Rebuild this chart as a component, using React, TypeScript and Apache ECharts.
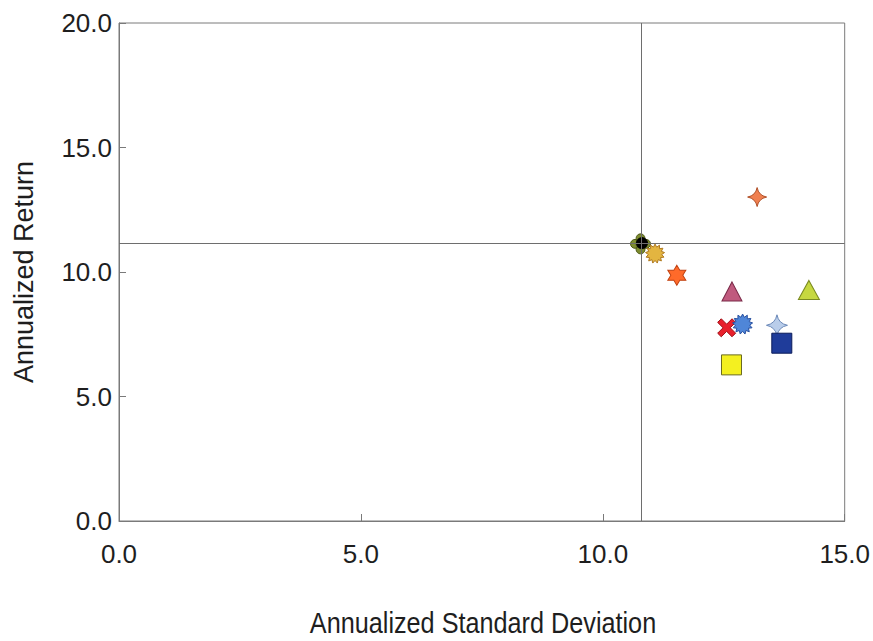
import React, { useEffect, useRef } from "react";
import * as echarts from "echarts";

// ---- data ----
const pointNames = [
  "Clover", "Circle", "Sun", "Star6", "Star4", "TrianglePink", "TriangleLime",
  "Cross", "BlueSun", "LightStar4", "NavySquare", "YellowSquare",
];
const stdDev = [10.78, 10.81, 11.08, 11.53, 13.19, 12.67, 14.26, 12.56, 12.89, 13.6, 13.7, 12.66];
const annReturn = [11.13, 11.16, 10.74, 9.87, 13.01, 9.22, 9.28, 7.76, 7.91, 7.86, 7.14, 6.27];
const refStdDev = 10.79;
const refReturn = 11.16;
const xTicks = [0, 5, 10, 15];
const yTicks = [0, 5, 10, 15, 20];
const xTitle = "Annualized Standard Deviation";
const yTitle = "Annualized Return";

// ---- symbol shapes ----
function burst(n: number, ro: number, ri: number) {
  let d = "";
  for (let i = 0; i < 2 * n; i++) {
    const a = (Math.PI * i) / n - Math.PI / 2;
    const r = i % 2 === 0 ? ro : ri;
    d += (i === 0 ? "M" : "L") + (r * Math.cos(a)).toFixed(2) + "," + (r * Math.sin(a)).toFixed(2) + " ";
  }
  return "path://" + d + "Z";
}
function circ(cx: number, cy: number, r: number) {
  return `M${cx - r},${cy} a${r},${r} 0 1,0 ${2 * r},0 a${r},${r} 0 1,0 ${-2 * r},0 Z `;
}
const cloverPath = "path://" + circ(0, -5, 4) + circ(5, 0, 4) + circ(0, 5, 4) + circ(-5, 0, 4) + circ(0, 0, 4);
const star4Path = "path://M0,-10 Q1.6,-1.6 10,0 Q1.6,1.6 0,10 Q-1.6,1.6 -10,0 Q-1.6,-1.6 0,-10 Z";
const star6Path = "path://M0,-10 L2.89,-5 L8.66,-5 L5.77,0 L8.66,5 L2.89,5 L0,10 L-2.89,5 L-8.66,5 L-5.77,0 L-8.66,-5 L-2.89,-5 Z";
const crossPath = "path://M-10,-6 L-6,-10 L0,-4 L6,-10 L10,-6 L4,0 L10,6 L6,10 L0,4 L-6,10 L-10,6 L-4,0 Z";
const sunPath = burst(13, 10, 7);

const styles = [
  { symbol: cloverPath, size: 20, color: "#7d8c2e", border: "#4f5a18" },
  { symbol: "circle", size: 11, color: "#000000", border: "#000000" },
  { symbol: sunPath, size: 19, color: "#e3b540", border: "#b07a20" },
  { symbol: star6Path, size: [18, 20], color: "#ff6a2a", border: "#c04010" },
  { symbol: star4Path, size: 19, color: "#f08050", border: "#b05028" },
  { symbol: "triangle", size: [20, 19], color: "#c05a7e", border: "#7a2a48" },
  { symbol: "triangle", size: [21, 19], color: "#c6d840", border: "#7a8a20" },
  { symbol: crossPath, size: 18, color: "#e8202c", border: "#a01018" },
  { symbol: sunPath, size: 20, color: "#4f86d8", border: "#2850a0" },
  { symbol: star4Path, size: 21, color: "#b9cdea", border: "#6a88b8" },
  { symbol: "rect", size: 20, color: "#1f3c9a", border: "#0c1c5a" },
  { symbol: "rect", size: 20, color: "#f4f020", border: "#6a6a20" },
];

const FONT = "'Liberation Sans', Arial, sans-serif";

export default function App() {
  const ref = useRef<HTMLDivElement>(null);
  useEffect(() => {
    if (!ref.current) return;
    const chart = echarts.init(ref.current, undefined, { renderer: "svg" });
    const series: any[] = pointNames.map((name, i) => ({
      name,
      type: "scatter",
      data: [[stdDev[i], annReturn[i]]],
      symbol: styles[i].symbol,
      symbolSize: styles[i].size,
      z: 3 + i,
      itemStyle: { color: styles[i].color, borderColor: styles[i].border, borderWidth: 1, opacity: 1 },
    }));
    series.unshift({
      name: "ref",
      type: "scatter",
      data: [],
      z: 2,
      markLine: {
        silent: true,
        symbol: "none",
        label: { show: false },
        lineStyle: { color: "#6e6e6e", width: 1, type: "solid" },
        data: [{ xAxis: refStdDev }, { yAxis: refReturn }],
      },
    });
    chart.setOption({
      animation: false,
      backgroundColor: "#ffffff",
      grid: {
        left: 119, right: 27, top: 23, bottom: 120,
        show: true, borderColor: "#7a7a7a", borderWidth: 1, backgroundColor: "transparent",
      },
      graphic: [
        {
          type: "text", x: 483, y: 623, scaleX: 0.87, silent: true,
          style: {
            text: xTitle, font: `29px ${FONT}`, fill: "#1e1e1e",
            textAlign: "center", textVerticalAlign: "middle",
          },
        },
      ],
      xAxis: {
        type: "value", min: xTicks[0], max: xTicks[xTicks.length - 1], interval: 5,
        axisLine: { lineStyle: { color: "#7a7a7a" } },
        axisTick: { inside: true, length: 7, lineStyle: { color: "#7a7a7a" } },
        splitLine: { show: false },
        axisLabel: { formatter: (v: number) => v.toFixed(1), fontFamily: FONT, fontSize: 26, color: "#1e1e1e", margin: 20 },
      },
      yAxis: {
        type: "value", min: yTicks[0], max: yTicks[yTicks.length - 1], interval: 5,
        name: yTitle, nameLocation: "middle", nameGap: 82, nameRotate: 90,
        nameTextStyle: { fontFamily: FONT, fontSize: 27, color: "#1e1e1e" },
        axisLine: { lineStyle: { color: "#7a7a7a" } },
        axisTick: { inside: true, length: 7, lineStyle: { color: "#7a7a7a" } },
        splitLine: { show: false },
        axisLabel: { formatter: (v: number) => v.toFixed(1), fontFamily: FONT, fontSize: 26, color: "#1e1e1e", margin: 7 },
      },
      series,
    });
    return () => chart.dispose();
  }, []);
  return <div ref={ref} style={{ position: "absolute", left: 0, top: 0, width: 873, height: 641 }} />;
}
